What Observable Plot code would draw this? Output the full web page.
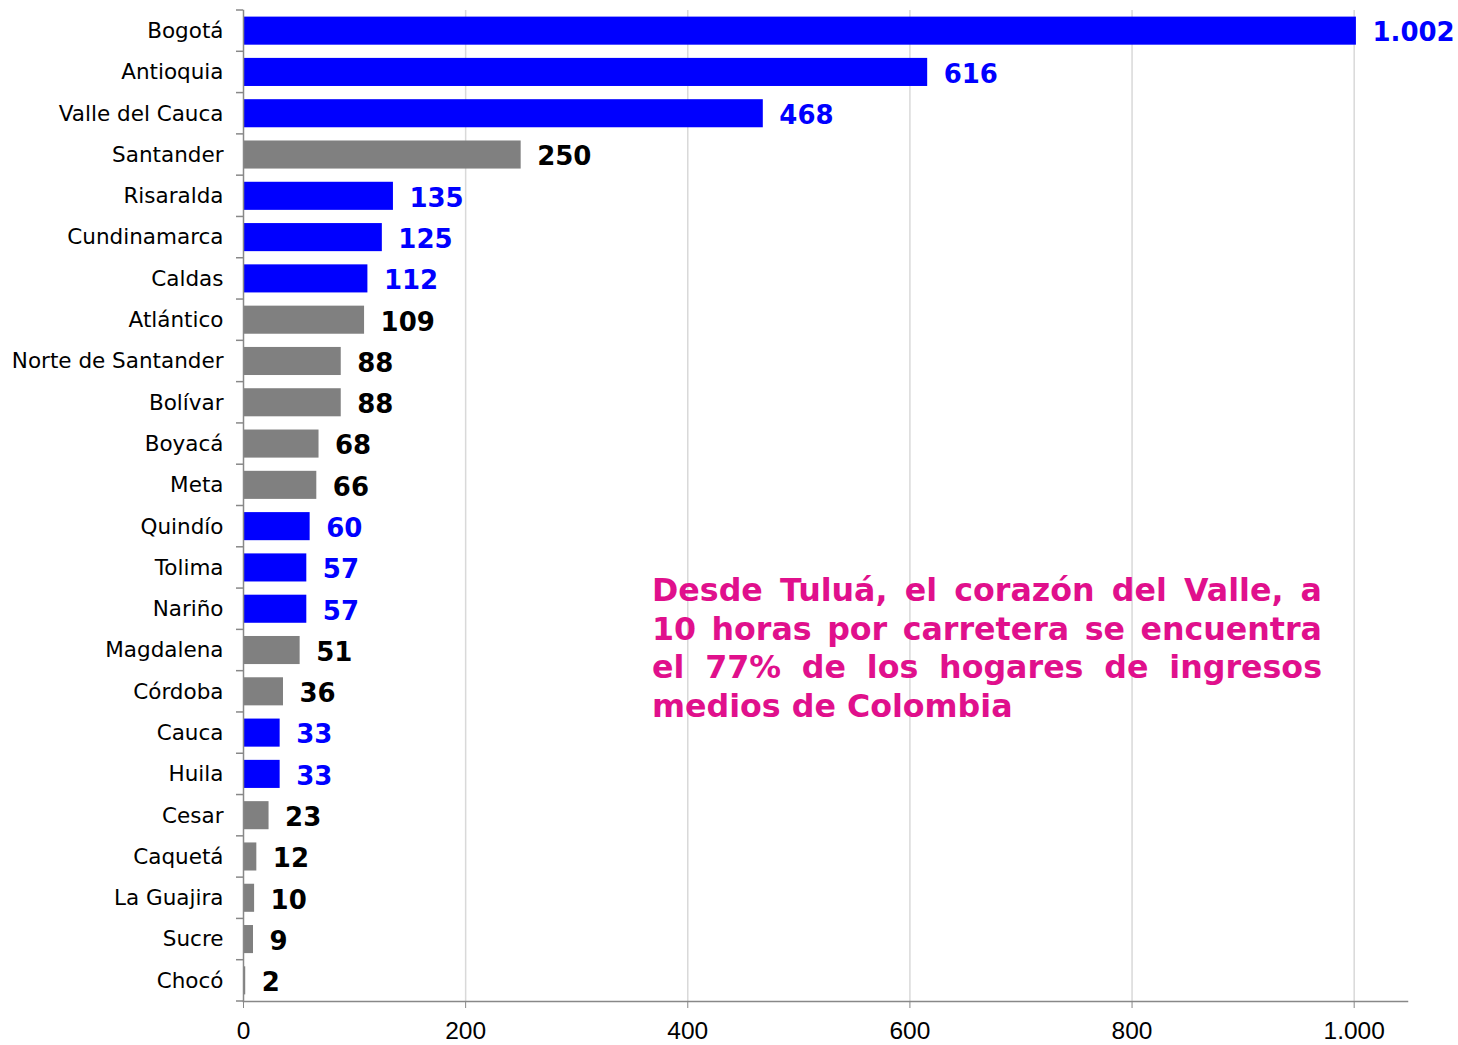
<!DOCTYPE html>
<html>
<head>
<meta charset="utf-8">
<script src="https://cdn.jsdelivr.net/npm/d3@7"></script>
<script src="https://cdn.jsdelivr.net/npm/@observablehq/plot@0.6"></script>
<style>
  body { margin: 0; background: #fff; }
  #wrap { position: relative; width: 1458px; height: 1045px; }
  #note { position: absolute; left: 652px; top: 571px; width: 670px;
    font-family: "DejaVu Sans", Verdana, sans-serif; font-weight: bold; font-size: 31.7px;
    line-height: 38.5px; color: #E0108C; }
  #note div { text-align: justify; text-align-last: justify; white-space: nowrap; }
  #note div.last { text-align-last: left; }
</style>
</head>
<body>
<div id="wrap"></div>
<script>
const regions = ["Bogotá","Antioquia","Valle del Cauca","Santander","Risaralda","Cundinamarca","Caldas","Atlántico","Norte de Santander","Bolívar","Boyacá","Meta","Quindío","Tolima","Nariño","Magdalena","Córdoba","Cauca","Huila","Cesar","Caquetá","La Guajira","Sucre","Chocó"];
const values = [1002,616,468,250,135,125,112,109,88,88,68,66,60,57,57,51,36,33,33,23,12,10,9,2];
const highlighted = ["Bogotá","Antioquia","Valle del Cauca","Risaralda","Cundinamarca","Caldas","Quindío","Tolima","Nariño","Cauca","Huila"];
const xTicks = [0,200,400,600,800,1000];
const noteLines = ["Desde Tuluá, el corazón del Valle, a","10 horas por carretera se encuentra","el 77% de los hogares de ingresos","medios de Colombia"];

const data = regions.map((r, i) => ({region: r, value: values[i], hl: highlighted.includes(r)}));
const es = d3.formatLocale({decimal: ",", thousands: ".", grouping: [3], currency: ["$", ""]});
const fmt = es.format(",d");

const chart = Plot.plot({
  width: 1458,
  height: 1045,
  marginLeft: 243,
  marginRight: 51,
  marginTop: 10,
  marginBottom: 44,
  style: {background: "#fff"},
  x: {domain: [0, 1048], ticks: xTicks, tickFormat: fmt},
  y: {domain: regions, paddingInner: 0.32, paddingOuter: 0.16, round: false},
  marks: [
    Plot.ruleX(xTicks.filter(d => d > 0), {stroke: "#d9d9d9", strokeWidth: 1.5}),
    Plot.barX(data, {y: "region", x: "value", fill: d => d.hl ? "#0000FF" : "#808080"}),
    Plot.text(data, {y: "region", x: "value", text: d => fmt(d.value), textAnchor: "start", dx: 16, dy: 2,
      fill: d => d.hl ? "#0000FF" : "#000000", fontWeight: "bold", fontSize: 26, fontFamily: "DejaVu Sans, Verdana, sans-serif"}),
    Plot.frame({anchor: "left", stroke: "#888", strokeWidth: 1.5}),
    Plot.frame({anchor: "bottom", stroke: "#888", strokeWidth: 1.5}),
    Plot.axisX({ticks: xTicks, tickFormat: fmt, tickSize: 7, tickPadding: 13, stroke: "#888",
      fontSize: 24.5, fontFamily: "Liberation Sans, Arial, sans-serif", fill: "#000", label: null}),
    Plot.axisY({tickSize: 0, tickPadding: 20, fontSize: 21.5, fontFamily: "DejaVu Sans, Verdana, sans-serif", fill: "#000", label: null})
  ]
});

// boundary ticks on the y axis, from Plot's own band scale
const ys = chart.scale("y");
const xs = chart.scale("x");
const x0 = xs.apply(0);
const step = ys.step;
const top0 = ys.apply(regions[0]) - (step - ys.bandwidth) / 2;
const svg = d3.select(chart);
const g = svg.append("g").attr("stroke", "#888").attr("stroke-width", 1.5);
for (let i = 0; i <= regions.length; i++) {
  const yy = top0 + i * step;
  g.append("line").attr("x1", x0 - 7).attr("x2", x0).attr("y1", yy).attr("y2", yy);
}

const wrap = document.getElementById("wrap");
wrap.appendChild(chart);
const note = document.createElement("div");
note.id = "note";
noteLines.forEach((t, i) => {
  const d = document.createElement("div");
  d.textContent = t;
  if (i === noteLines.length - 1) d.className = "last";
  note.appendChild(d);
});
wrap.appendChild(note);
</script>
</body>
</html>
